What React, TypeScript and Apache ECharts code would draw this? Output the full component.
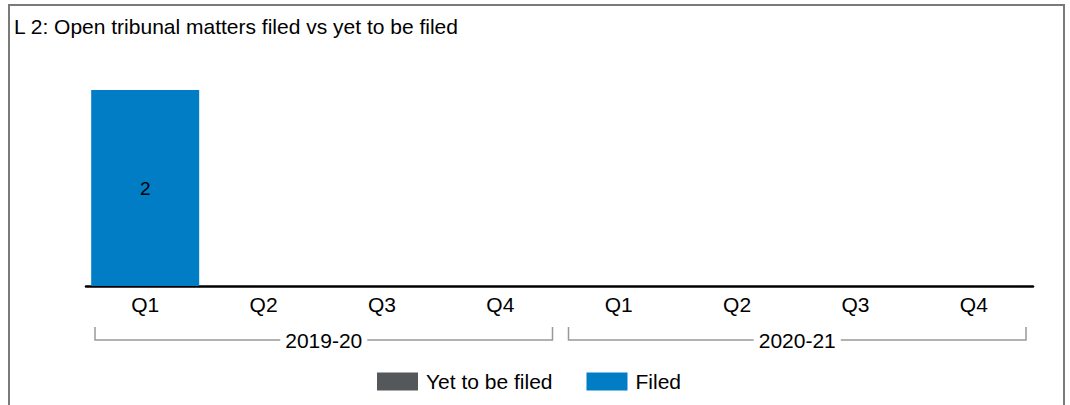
import React, { useEffect, useRef } from "react";
import * as echarts from "echarts";

const titleText = "L 2: Open tribunal matters filed vs yet to be filed";
const quarters = ["Q1", "Q2", "Q3", "Q4"];
const groups = ["2019-20", "2020-21"];
const yetToBeFiled = [0, 0, 0, 0, 0, 0, 0, 0];
const filed = [2, 0, 0, 0, 0, 0, 0, 0];
const seriesNames = ["Yet to be filed", "Filed"];
const colors = ["#55585b", "#007dc5"];

const categories = groups.flatMap((g) => quarters.map((q) => `${g}|${q}`));
const FONT = "'Liberation Sans', Arial, sans-serif";

export default function App() {
  const ref = useRef<HTMLDivElement>(null);
  useEffect(() => {
    if (!ref.current) return;
    const chart = echarts.init(ref.current, null, { renderer: "svg" });
    const labelFmt = (p: any) => (p.value ? String(p.value) : "");
    chart.setOption({
      animation: false,
      textStyle: { fontFamily: FONT },
      title: {
        text: titleText,
        left: 9,
        top: 11,
        textStyle: { fontFamily: FONT, fontSize: 21, fontWeight: "normal", color: "#000" },
      },
      legend: {
        data: seriesNames,
        left: 372,
        top: 366,
        itemWidth: 41,
        itemHeight: 18,
        itemGap: 34,
        icon: "rect",
        textStyle: { fontFamily: FONT, fontSize: 21, color: "#000", padding: [0, 0, 0, 3] },
      },
      grid: { left: 86, right: 37, top: 90, bottom: 119 },
      xAxis: {
        type: "category",
        data: categories,
        axisLine: { lineStyle: { color: "#000", width: 2.5 } },
        axisTick: { alignWithLabel: true, length: 3, lineStyle: { color: "#999" } },
        axisLabel: {
          fontFamily: FONT,
          fontSize: 21,
          color: "#000",
          margin: 8,
          interval: 0,
          formatter: (v: string) => v.split("|")[1],
        },
      },
      yAxis: { type: "value", min: 0, max: 2, show: false, splitLine: { show: false } },
      series: [
        {
          name: seriesNames[0],
          type: "bar",
          stack: "total",
          data: yetToBeFiled,
          barWidth: 108,
          itemStyle: { color: colors[0] },
          label: { show: true, position: "inside", color: "#000", fontSize: 19, fontFamily: FONT, formatter: labelFmt },
        },
        {
          name: seriesNames[1],
          type: "bar",
          stack: "total",
          data: filed,
          barWidth: 108,
          itemStyle: { color: colors[1] },
          label: { show: true, position: "inside", color: "#000", fontSize: 19, fontFamily: FONT, formatter: labelFmt },
        },
      ],
    });

    const c0 = chart.convertToPixel({ xAxisIndex: 0 }, 0) as number;
    const c1 = chart.convertToPixel({ xAxisIndex: 0 }, 1) as number;
    const band = c1 - c0;
    const bracketY = 340;
    const tickTop = 327;
    const graphics: any[] = [
      {
        type: "rect",
        shape: { x: 9, y: 5, width: 1055, height: 430 },
        style: { fill: "none", stroke: "#7a7a7a", lineWidth: 2 },
        silent: true,
      },
    ];
    groups.forEach((g, gi) => {
      const first = gi * quarters.length;
      const last = first + quarters.length - 1;
      const x0 = (chart.convertToPixel({ xAxisIndex: 0 }, first) as number) - band / 2 + 9;
      const x1 = (chart.convertToPixel({ xAxisIndex: 0 }, last) as number) + band / 2 - 7;
      graphics.push({
        type: "polyline",
        shape: { points: [[x0, tickTop], [x0, bracketY], [x1, bracketY], [x1, tickTop]] },
        style: { fill: "none", stroke: "#999", lineWidth: 1.5 },
        silent: true,
      });
      graphics.push({
        type: "text",
        x: (x0 + x1) / 2,
        y: bracketY,
        style: {
          text: g,
          fontFamily: FONT,
          fontSize: 21,
          fill: "#000",
          align: "center",
          verticalAlign: "middle",
          backgroundColor: "#fff",
          padding: [0, 5],
        },
        silent: true,
      });
    });
    chart.setOption({ graphic: graphics });
    return () => chart.dispose();
  }, []);
  return (
    <div
      ref={ref}
      style={{ position: "fixed", left: 0, top: 0, width: 1070, height: 405, background: "#fff" }}
    />
  );
}
